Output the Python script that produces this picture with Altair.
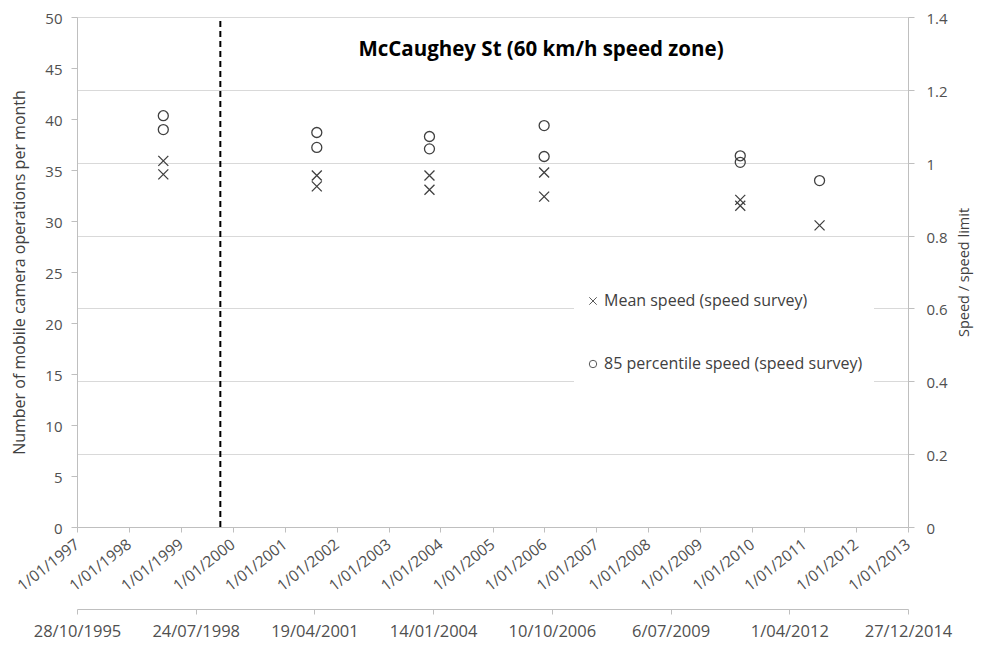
import altair as alt
import pandas as pd

# ---- data ----
series_names = ["Mean speed (speed survey)", "85 percentile speed (speed survey)"]

mean_dates = ["1997-10-24", "1997-10-24", "2001-05-09", "2001-05-09", "2003-12-14", "2003-12-14",
              "2006-08-06", "2006-08-06", "2011-02-13", "2011-02-13", "2012-12-12"]
mean_values = [1.005, 0.968, 0.965, 0.935, 0.965, 0.926, 0.973, 0.907, 0.898, 0.882, 0.828]

p85_dates = ["1997-10-24", "1997-10-24", "2001-05-09", "2001-05-09", "2003-12-14", "2003-12-14",
             "2006-08-06", "2006-08-06", "2011-02-13", "2011-02-13", "2012-12-12"]
p85_values = [1.129, 1.091, 1.083, 1.042, 1.072, 1.038, 1.102, 1.017, 1.019, 1.001, 0.951]

camera_date = ["1999-10-06"]
camera_from = [0]
camera_to = [49.6]

# tick labels
year_ticks = list(range(1997, 2014))
day_ticks = [(1995, 10, 28), (1998, 7, 24), (2001, 4, 19), (2004, 1, 14),
             (2006, 10, 10), (2009, 7, 6), (2012, 4, 1), (2014, 12, 27)]
left_ticks = [0, 5, 10, 15, 20, 25, 30, 35, 40, 45, 50]
right_ticks = [0, 0.2, 0.4, 0.6, 0.8, 1, 1.2, 1.4]

title_text = "McCaughey St (60 km/h speed zone)"

# ---- build tables ----
points_df = pd.DataFrame({
    "date": mean_dates + p85_dates,
    "value": mean_values + p85_values,
    "series": [series_names[0]] * len(mean_values) + [series_names[1]] * len(p85_values),
})
rule_df = pd.DataFrame({"date": camera_date, "y0": camera_from, "y1": camera_to})
title_df = pd.DataFrame({"t": [title_text]})


def dt(y, m, d):
    return alt.DateTime(year=y, month=m, date=d, utc=True)


FONT = "Open Sans"
GRID = "#d9d9d9"
AXC = "#bfbfbf"
LAB = "#505050"
X_PATH = "M-1,-1L1,1M-1,1L1,-1"
DATE_EXPR = "utcFormat(datum.value, '%-d/%m/%Y')"

rule = alt.Chart(rule_df).mark_rule(strokeDash=[6, 4], strokeWidth=2, color="black").encode(
    x=alt.X("date:T",
            scale=alt.Scale(type="utc", domain=[dt(1997, 1, 1), dt(2013, 1, 1)]),
            axis=alt.Axis(orient="bottom", values=[dt(y, 1, 1) for y in year_ticks],
                          labelExpr=DATE_EXPR, title=None, grid=False,
                          labelAngle=322, labelAlign="right", labelBaseline="middle",
                          labelPadding=10, tickSize=5, labelFontSize=15.5, labelColor=LAB,
                          labelFont=FONT, domainColor=AXC, tickColor=AXC,
                          labelOverlap=False, labelFlush=False)),
    y=alt.Y("y0:Q",
            scale=alt.Scale(domain=[0, 50], nice=False, zero=True),
            axis=alt.Axis(orient="left", values=left_ticks, grid=False,
                          title="Number of mobile camera operations per month",
                          titleFontSize=16, titleFontWeight="normal", titleColor="#404040",
                          titleFont=FONT, titlePadding=17,
                          tickSize=6, labelPadding=9, labelFontSize=15, labelColor=LAB,
                          labelOffset=1.5,
                          labelFont=FONT, domainColor=AXC, tickColor=AXC,
                          labelFlush=False)),
    y2="y1:Q",
)

points = alt.Chart(points_df).mark_point(filled=False, size=100, strokeWidth=1.3,
                                         color="#404040", opacity=1).encode(
    x=alt.X("date:T",
            scale=alt.Scale(type="utc", domain=[dt(1995, 10, 28), dt(2014, 12, 27)]),
            axis=alt.Axis(orient="bottom", offset=82, values=[dt(*d) for d in day_ticks],
                          labelExpr=DATE_EXPR, title=None, grid=False,
                          labelAngle=0, labelPadding=9, tickSize=5, labelFontSize=16.5,
                          labelColor=LAB, labelFont=FONT, domainColor=AXC, tickColor=AXC,
                          labelOverlap=False, labelFlush=False)),
    y=alt.Y("value:Q",
            scale=alt.Scale(domain=[0, 1.4], nice=False, zero=True),
            axis=alt.Axis(orient="right", values=right_ticks, format="~g", grid=True,
                          gridColor=GRID, gridWidth=1,
                          title="Speed / speed limit", titleAngle=270, titleBaseline="top",
                          titleFontSize=14.5, titleFontWeight="normal", titleColor="#404040",
                          titleFont=FONT, titlePadding=10,
                          tickSize=6, labelPadding=12, labelFontSize=15, labelColor=LAB,
                          labelOffset=1.5,
                          labelFont=FONT, domainColor=AXC, tickColor=AXC, labelFlush=False)),
    shape=alt.Shape("series:N",
                    scale=alt.Scale(domain=series_names, range=[X_PATH, "circle"]),
                    legend=alt.Legend(orient="none", legendX=497, legendY=265, title=None,
                                      fillColor="white", padding=11, rowPadding=47,
                                      labelFontSize=16, labelColor="#404040", labelFont=FONT,
                                      labelLimit=400, symbolSize=55, symbolStrokeWidth=1,
                                      symbolStrokeColor="#595959", labelOffset=3)),
)

title = alt.Chart(title_df).mark_text(font=FONT, fontSize=20.5, fontWeight="bold",
                                      color="black").encode(
    x=alt.value(464), y=alt.value(33), text="t:N")

chart = alt.layer(rule, points, title).resolve_scale(
    x="independent", y="independent"
).properties(
    width=831, height=510,
    autosize=alt.AutoSizeParams(type="none"),
    padding={"left": 69, "top": 9, "right": 66, "bottom": 115},
).configure_view(stroke=None).configure(font=FONT)

chart.save("out.html", embed_options={"renderer": "svg", "actions": False})
